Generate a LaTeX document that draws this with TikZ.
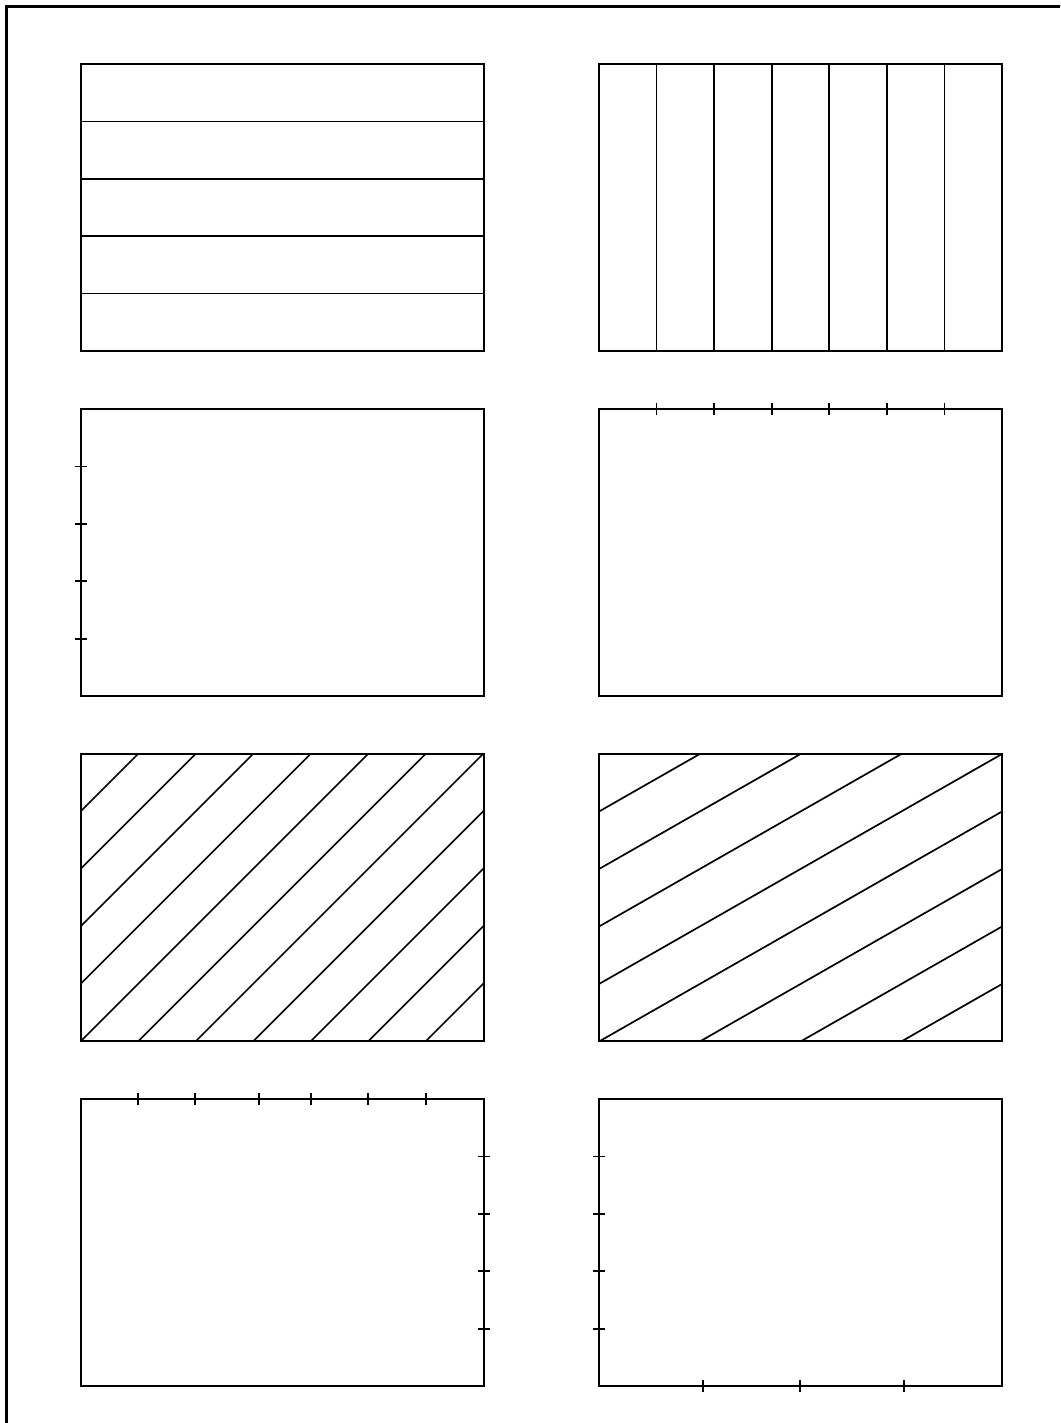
\documentclass[tikz,border=0pt]{standalone}
\begin{document}
\begin{tikzpicture}[x=1pt,y=-1pt,
  frame/.style={line width=2.4pt},
  boxline/.style={line width=2pt},
  hatch/.style={line width=1.7pt},
  tickmark/.style={line width=1.8pt}]
\useasboundingbox (0,0) rectangle (1060,1423);
\clip (0,0) rectangle (1060,1423);
% outer frame (cropped at right and bottom)
\draw[frame] (6.5,1440) -- (6.5,6.5) -- (1080,6.5);
% box corner coordinates
\foreach \nm/\bx/\by in {b1/81/64, b2/599/64, b3/81/409, b4/599/409, b5/81/754, b6/599/754, b7/81/1099, b8/599/1099}{
  \coordinate (\nm) at (\bx,\by);
}
% box 1: horizontal bands
\foreach \k in {1,...,4}{
  \draw[hatch] (81,64+57.4*\k) -- (484,64+57.4*\k);
}
% box 2: vertical bands
\foreach \k in {1,...,6}{
  \draw[hatch] (599+57.57*\k,64) -- (599+57.57*\k,351);
}
% box 3: left ticks
\foreach \k in {1,...,4}{
  \draw[tickmark] (75,409+57.4*\k) -- (87,409+57.4*\k);
}
% box 4: top ticks
\foreach \k in {1,...,6}{
  \draw[tickmark] (599+57.57*\k,403) -- (599+57.57*\k,415);
}
% box 5: 45 degree hatching
\begin{scope}
  \clip (81,754) rectangle (484,1041);
  \foreach \k in {0,...,10}{
    \pgfmathsetmacro{\c}{892+57.5*\k}
    \draw[hatch] (\c-740,740) -- (\c-1060,1060);
  }
\end{scope}
% box 6: 30 degree hatching
\begin{scope}
  \clip (599,754) rectangle (1002,1041);
  \foreach \k in {0,...,7}{
    \pgfmathsetmacro{\yo}{811.5+57.5*\k}
    \draw[hatch] (590,\yo+9*0.5707) -- (1010,\yo-411*0.5707);
  }
\end{scope}
% box 7: top ticks and right ticks
\foreach \xx in {138,195,259,311,368,426}{
  \draw[tickmark] (\xx,1093) -- (\xx,1105);
}
\foreach \k in {1,...,4}{
  \draw[tickmark] (478,1099+57.4*\k) -- (490,1099+57.4*\k);
}
% box 8: left ticks and bottom ticks
\foreach \k in {1,...,4}{
  \draw[tickmark] (593,1099+57.4*\k) -- (605,1099+57.4*\k);
}
\foreach \xx in {703,800,904}{
  \draw[tickmark] (\xx,1380) -- (\xx,1392);
}
% box outlines
\foreach \nm in {b1,b2,b3,b4,b5,b6,b7,b8}{
  \draw[boxline] (\nm) rectangle ++(403,287);
}
\end{tikzpicture}
\end{document}
